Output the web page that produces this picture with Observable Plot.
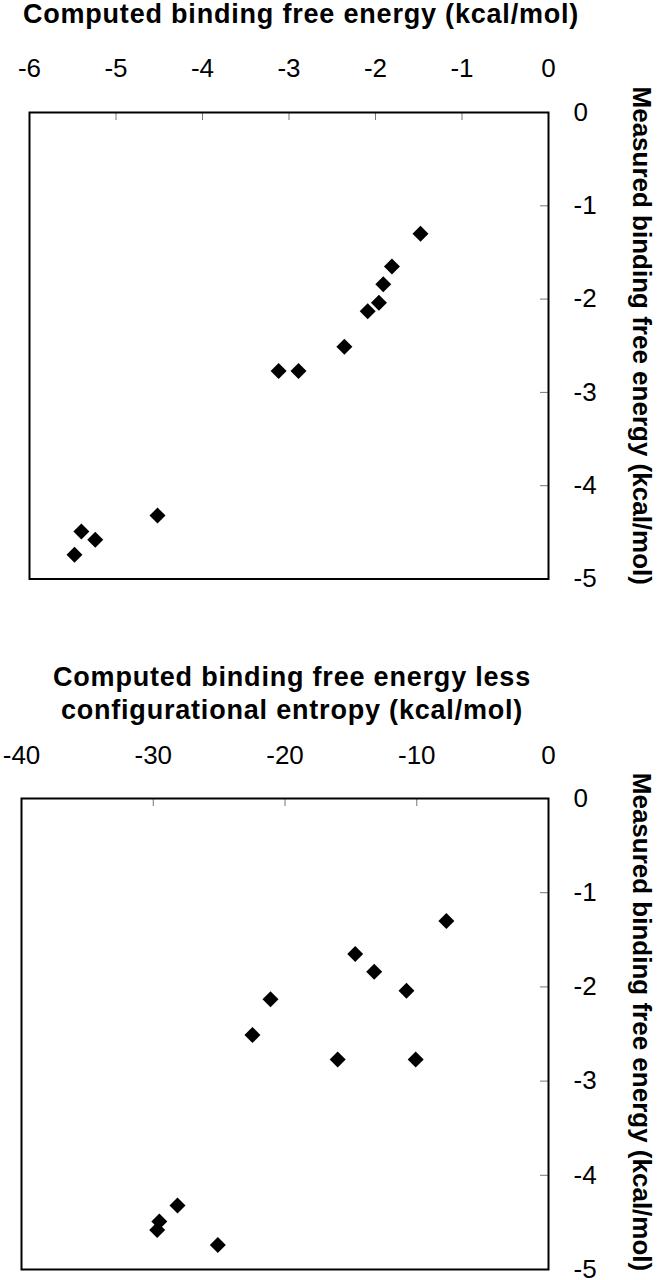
<!DOCTYPE html>
<html>
<head>
<meta charset="utf-8">
<script src="https://cdn.jsdelivr.net/npm/d3@7"></script>
<script src="https://cdn.jsdelivr.net/npm/@observablehq/plot@0.6"></script>
<style>
  html, body { margin: 0; padding: 0; background: #fff; }
  #chart svg { display: block; overflow: visible; }
</style>
</head>
<body>
<div id="chart"></div>
<script>
// Measured binding free energy (kcal/mol), shared by both panels
const measured = [-1.30, -1.65, -1.84, -2.04, -2.13, -2.51, -2.77, -2.77, -4.32, -4.49, -4.58, -4.74];
// Computed binding free energy (kcal/mol)
const computed = [-1.48, -1.81, -1.91, -1.96, -2.09, -2.36, -2.89, -3.12, -4.52, -5.40, -5.24, -5.48];
// Computed binding free energy less configurational entropy (kcal/mol)
const computedLessEntropy = [-7.75, -14.67, -13.23, -10.78, -21.1, -22.47, -16.0, -10.08, -28.16, -29.54, -29.7, -25.1];

const xTicksTop = [-6, -5, -4, -3, -2, -1, 0];
const xTicksBottom = [-40, -30, -20, -10, 0];
const yTicks = [-5, -4, -3, -2, -1, 0];

const titleTop = "Computed binding free energy (kcal/mol)";
const titleBottom = "Computed binding free energy less\nconfigurational entropy (kcal/mol)";
const yLabel = "Measured binding free energy (kcal/mol)";

const FONT = "'Liberation Sans', Arial, Helvetica, sans-serif";

function panel({xs, xDomain, xTicks, title, marginTop, marginLeft, marginBottom, titleDy, titleDx, tickPad, labelDy}) {
  const height = 640, width = 658, marginRight = 110;
  const innerH = height - marginTop - marginBottom;
  const innerW = width - marginLeft - marginRight;
  const data = measured.map((m, i) => ({x: xs[i], y: m}));
  const svg = Plot.plot({
    width, height, marginTop, marginLeft, marginRight, marginBottom,
    style: {fontFamily: FONT, fontSize: "26px", color: "black", background: "white", overflow: "visible"},
    x: {domain: xDomain},
    y: {domain: [-5, 0]},
    marks: [
      Plot.tickX(xTicks, {x: d => d, stroke: "#777", strokeWidth: 1, insetBottom: innerH - 8}),
      Plot.tickY(yTicks, {y: d => d, stroke: "#777", strokeWidth: 1, insetLeft: innerW - 8}),
      Plot.frame({stroke: "black", strokeWidth: 2}),
      Plot.axisX({anchor: "top", ticks: xTicks, tickSize: 0, tickPadding: tickPad, label: null, fontSize: 26, tickFormat: d => String(d)}),
      Plot.axisY({anchor: "right", ticks: yTicks, tickSize: 0, tickPadding: 25, label: null, fontSize: 26, tickFormat: d => String(d)}),
      Plot.dot(data, {x: "x", y: "y", symbol: "diamond2", r: 7.2, fill: "black", stroke: null}),
      Plot.text([title], {text: d => d, frameAnchor: "top", textAnchor: "middle", lineAnchor: "bottom", dy: titleDy, dx: titleDx,
        fontSize: 27, fontWeight: "bold", lineHeight: 1.2, fill: "black"}),
      Plot.text([yLabel], {text: d => d, frameAnchor: "right", textAnchor: "middle", lineAnchor: "middle", rotate: 90, dx: 93, dy: labelDy,
        fontSize: 26, fontWeight: "bold", fill: "black"})
    ]
  });
  // wider tracking for the horizontal titles
  svg.querySelectorAll("text").forEach(t => {
    if (t.textContent.startsWith("Computed") || t.textContent.startsWith("configurational")) {
      t.setAttribute("letter-spacing", "0.8");
    }
  });
  return svg;
}

const chart = document.getElementById("chart");
chart.appendChild(panel({
  xs: computed, xDomain: [-6, 0], xTicks: xTicksTop, title: titleTop,
  marginTop: 112, marginLeft: 29, marginBottom: 61.5, titleDy: -90, titleDx: 12, tickPad: 36, labelDy: -10
}));
chart.appendChild(panel({
  xs: computedLessEntropy, xDomain: [-40, 0], xTicks: xTicksBottom, title: titleBottom,
  marginTop: 158, marginLeft: 21, marginBottom: 11, titleDy: -80, titleDx: 7, tickPad: 35, labelDy: -12
}));
</script>
</body>
</html>
